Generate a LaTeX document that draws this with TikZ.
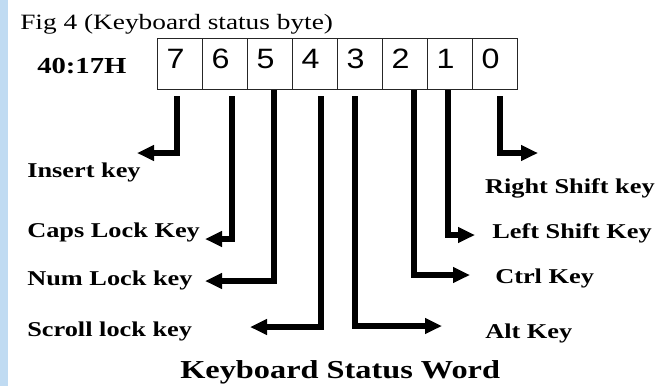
\documentclass[tikz,border=0pt]{standalone}
\usepackage{fontspec}
\setmainfont[FakeStretch=1.25]{Liberation Serif}
\newfontfamily\bitfont[FakeStretch=1.15]{Liberation Sans}
\usepackage{tikz}
\usetikzlibrary{arrows.meta,calc,positioning}
\definecolor{edgeblue}{RGB}{192,219,242}

\begin{document}
\begin{tikzpicture}[x=0.75pt,y=-0.75pt,
    cell/.style={draw=black!85, line width=1pt, anchor=north west,
      inner xsep=6.75pt, inner ysep=0pt, text width=20.25pt, align=left,
      text height=22.5pt, text depth=15.75pt,
      font=\bitfont\fontsize{21}{21}\selectfont},
    keylabel/.style={inner sep=0pt, font=\bfseries\fontsize{15.8}{16}\selectfont},
    wire/.style={line width=4.5pt, line join=miter,
      -{Triangle[length=12.75pt,width=11.25pt]}}]
    \useasboundingbox (0,0) rectangle (660,386);
    \fill[white] (0,0) rectangle (660,386);
    \fill[edgeblue] (0,0) rectangle (8,386);

    \node[inner sep=0pt, anchor=base west, font=\fontsize{16.4}{17}\selectfont] (fig) at (20,29) {Fig 4 (Keyboard status byte)};
    \node[inner sep=0pt, anchor=base west, font=\bfseries\fontsize{17.2}{18}\selectfont] (addr) at (37,73) {40:17H};

    \foreach \bit [count=\i from 0] in {7,6,5,4,3,2,1,0}
        \node[cell] (b\bit) at ({157+45*\i},38) {\bit};

    \node[keylabel, anchor=base west] (ins) at (27,177) {Insert key};
    \node[keylabel, anchor=base west] (caps) at (27,237) {Caps Lock Key};
    \node[keylabel, anchor=base west] (num) at (27,285) {Num Lock key};
    \node[keylabel, anchor=base west] (scroll) at (27,336) {Scroll lock key};
    \node[keylabel, anchor=base east] (rshift) at (655,193) {Right Shift key};
    \node[keylabel, anchor=base west] (lshift) at (492,238) {Left Shift Key};
    \node[keylabel, anchor=base west] (ctrl) at (495,283) {Ctrl Key};
    \node[keylabel, anchor=base west] (alt) at (485,338) {Alt Key};

    \foreach \bit/\dx/\gap/\tx/\ty in {7/-3/6/137/153, 6/7/6/205/239, 5/4/0/205/281,
        4/5.5/6/250/327, 3/-5/6/442/326, 2/8.5/0/470/275, 1/-2.5/0/475/235, 0/5/6/538/153} {
        \coordinate (t\bit) at (\tx,\ty);
        \draw[wire] ($(b\bit.south)+(\dx,\gap)$) |- (t\bit);
    }

    \node[inner sep=0pt, anchor=base west, font=\bfseries\fontsize{19.4}{20}\selectfont] (title) at (180,378) {Keyboard Status Word};
\end{tikzpicture}
\end{document}
